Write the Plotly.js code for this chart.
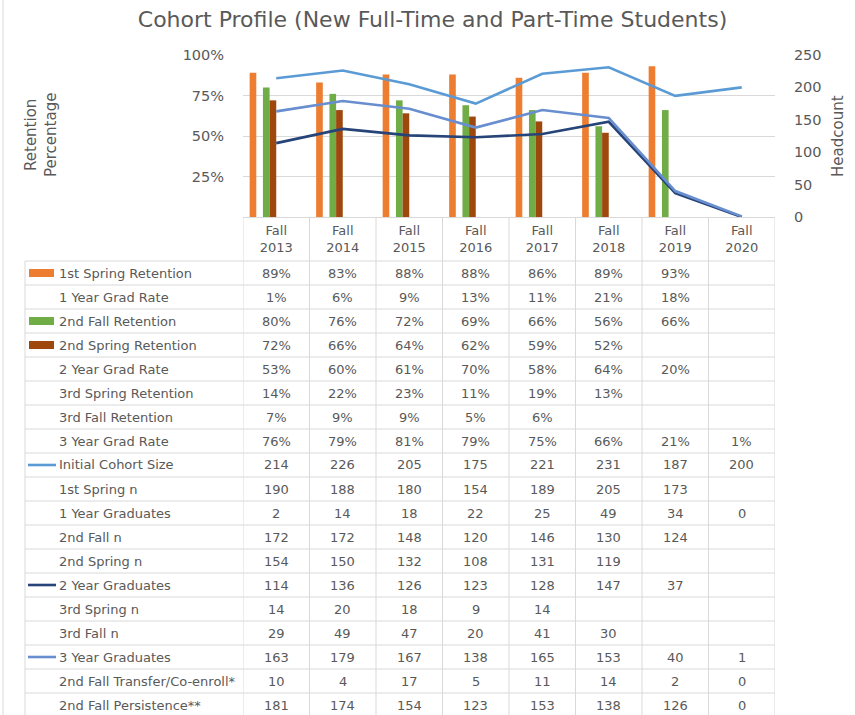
<!DOCTYPE html>
<html><head><meta charset="utf-8">
<script src="https://cdn.plot.ly/plotly-3.0.1.min.js"></script>
<style>html,body{margin:0;padding:0;background:#fff}</style>
</head><body><div id="chart" style="width:855px;height:715px"></div>
<script>
// ---- data ----
const categories = ["Fall 2013","Fall 2014","Fall 2015","Fall 2016","Fall 2017","Fall 2018","Fall 2019","Fall 2020"];
const tickLabels = ["Fall<br>2013","Fall<br>2014","Fall<br>2015","Fall<br>2016","Fall<br>2017","Fall<br>2018","Fall<br>2019","Fall<br>2020"];
const firstSpringRet   = [89, 83, 88, 88, 86, 89, 93, null];
const oneYearGradRate  = [1, 6, 9, 13, 11, 21, 18, null];
const secondFallRet    = [80, 76, 72, 69, 66, 56, 66, null];
const secondSpringRet  = [72, 66, 64, 62, 59, 52, null, null];
const twoYearGradRate  = [53, 60, 61, 70, 58, 64, 20, null];
const thirdSpringRet   = [14, 22, 23, 11, 19, 13, null, null];
const thirdFallRet     = [7, 9, 9, 5, 6, null, null, null];
const threeYearGradRate= [76, 79, 81, 79, 75, 66, 21, 1];
const initialCohort    = [214, 226, 205, 175, 221, 231, 187, 200];
const firstSpringN     = [190, 188, 180, 154, 189, 205, 173, null];
const oneYearGrads     = [2, 14, 18, 22, 25, 49, 34, 0];
const secondFallN      = [172, 172, 148, 120, 146, 130, 124, null];
const secondSpringN    = [154, 150, 132, 108, 131, 119, null, null];
const twoYearGrads     = [114, 136, 126, 123, 128, 147, 37, null];
const thirdSpringN     = [14, 20, 18, 9, 14, null, null, null];
const thirdFallN       = [29, 49, 47, 20, 41, 30, null, null];
const threeYearGrads   = [163, 179, 167, 138, 165, 153, 40, 1];
const transferCoenroll = [10, 4, 17, 5, 11, 14, 2, 0];
const fallPersistence  = [181, 174, 154, 123, 153, 138, 126, 0];
const pctTicks = [25, 50, 75, 100];
const pctTickText = ["25%", "50%", "75%", "100%"];
const countTicks = [0, 50, 100, 150, 200, 250];

// ---- layout geometry ----
const W = 855, H = 715, PL = 243, PR = 775, PT = 55, PB = 217;
const px = x => (x - PL) / (PR - PL);
const py = y => (PB - y) / (PB - PT);
const FONT = 'DejaVu Sans, sans-serif';
const TXT = '#595959', GRID = '#D9D9D9';
const TABLE_TOP = 261, ROW_H = 24, TABLE_LEFT = 25;

const barSeries = [
  {name: '1st Spring Retention', y: firstSpringRet, color: '#ED7D31'},
  {name: '1 Year Grad Rate', y: oneYearGradRate, color: null},
  {name: '2nd Fall Retention', y: secondFallRet, color: '#70AD47'},
  {name: '2nd Spring Retention', y: secondSpringRet, color: '#9E480E'},
  {name: '2 Year Grad Rate', y: twoYearGradRate, color: null},
  {name: '3rd Spring Retention', y: thirdSpringRet, color: null},
  {name: '3rd Fall Retention', y: thirdFallRet, color: null},
  {name: '3 Year Grad Rate', y: threeYearGradRate, color: null}
];
const lineSeries = [
  {name: 'Initial Cohort Size', y: initialCohort, color: '#5B9BD5'},
  {name: '2 Year Graduates', y: twoYearGrads, color: '#264478'},
  {name: '3 Year Graduates', y: threeYearGrads, color: '#698ED0'}
];

const rows = [
  {label: '1st Spring Retention', v: firstSpringRet, pct: true, key: 'bar', color: '#ED7D31'},
  {label: '1 Year Grad Rate', v: oneYearGradRate, pct: true},
  {label: '2nd Fall Retention', v: secondFallRet, pct: true, key: 'bar', color: '#70AD47'},
  {label: '2nd Spring Retention', v: secondSpringRet, pct: true, key: 'bar', color: '#9E480E'},
  {label: '2 Year Grad Rate', v: twoYearGradRate, pct: true},
  {label: '3rd Spring Retention', v: thirdSpringRet, pct: true},
  {label: '3rd Fall Retention', v: thirdFallRet, pct: true},
  {label: '3 Year Grad Rate', v: threeYearGradRate, pct: true},
  {label: 'Initial Cohort Size', v: initialCohort, key: 'line', color: '#5B9BD5'},
  {label: '1st Spring n', v: firstSpringN},
  {label: '1 Year Graduates', v: oneYearGrads},
  {label: '2nd Fall n', v: secondFallN},
  {label: '2nd Spring n', v: secondSpringN},
  {label: '2 Year Graduates', v: twoYearGrads, key: 'line', color: '#264478'},
  {label: '3rd Spring n', v: thirdSpringN},
  {label: '3rd Fall n', v: thirdFallN},
  {label: '3 Year Graduates', v: threeYearGrads, key: 'line', color: '#698ED0'},
  {label: '2nd Fall Transfer/Co-enroll*', v: transferCoenroll},
  {label: '2nd Fall Persistence**', v: fallPersistence}
];

// ---- traces ----
const traces = [];
barSeries.forEach(s => traces.push({
  type: 'bar', name: s.name, x: categories, y: s.y,
  marker: {color: s.color || 'rgba(0,0,0,0)'},
  hoverinfo: s.color ? 'x+y+name' : 'skip', showlegend: false
}));
lineSeries.forEach(s => traces.push({
  type: 'scatter', mode: 'lines', name: s.name, x: categories,
  y: s.y.map(v => v == null ? 0 : v), // Excel plots the blank cell as zero
  yaxis: 'y2', line: {color: s.color, width: 2.6}, showlegend: false
}));

// ---- table: lines, text, legend keys ----
const shapes = [];
const annotations = [];
const nRows = rows.length;
const tableBottom = TABLE_TOP + nRows * ROW_H;
for (let k = 0; k <= nRows; k++) {
  const yy = TABLE_TOP + k * ROW_H;
  shapes.push({type: 'line', xref: 'paper', yref: 'paper', x0: px(TABLE_LEFT), x1: px(PR), y0: py(yy), y1: py(yy), line: {color: GRID, width: 1}});
}
shapes.push({type: 'line', xref: 'paper', yref: 'paper', x0: px(TABLE_LEFT), x1: px(TABLE_LEFT), y0: py(TABLE_TOP), y1: py(tableBottom), line: {color: GRID, width: 1}});
for (let i = 0; i <= categories.length; i++) {
  shapes.push({type: 'line', xref: 'x', yref: 'paper', x0: i - 0.5, x1: i - 0.5, y0: 0, y1: py(tableBottom), line: {color: GRID, width: 1}});
}
// outer chart border on the left
shapes.push({type: 'line', xref: 'paper', yref: 'paper', x0: px(3), x1: px(3), y0: py(0), y1: py(H), line: {color: GRID, width: 1}});

rows.forEach((r, k) => {
  const cy = TABLE_TOP + k * ROW_H + ROW_H / 2;
  annotations.push({xref: 'paper', yref: 'paper', x: px(57), y: py(cy), xanchor: 'left', yanchor: 'middle',
    text: r.label, showarrow: false, font: {family: FONT, size: 13, color: TXT}});
  r.v.forEach((val, j) => {
    if (val == null) return;
    annotations.push({xref: 'x', yref: 'paper', x: categories[j], y: py(cy), xanchor: 'center', yanchor: 'middle',
      text: r.pct ? val + '%' : String(val), showarrow: false, font: {family: FONT, size: 13, color: TXT}});
  });
  if (r.key === 'bar') {
    shapes.push({type: 'rect', xref: 'paper', yref: 'paper', x0: px(29), x1: px(54), y0: py(cy - 4), y1: py(cy + 4),
      fillcolor: r.color, line: {width: 0}});
  } else if (r.key === 'line') {
    shapes.push({type: 'line', xref: 'paper', yref: 'paper', x0: px(28), x1: px(56), y0: py(cy), y1: py(cy),
      line: {color: r.color, width: 2.6}});
  }
});

// axis titles
annotations.push({xref: 'paper', yref: 'paper', x: px(41), y: py(135), xanchor: 'center', yanchor: 'middle',
  text: 'Retention<br>Percentage', textangle: -90, showarrow: false, font: {family: FONT, size: 15, color: TXT}});
annotations.push({xref: 'paper', yref: 'paper', x: px(838), y: py(136), xanchor: 'center', yanchor: 'middle',
  text: 'Headcount', textangle: -90, showarrow: false, font: {family: FONT, size: 15, color: TXT}});

const layout = {
  width: W, height: H,
  margin: {l: PL, r: W - PR, t: PT, b: H - PB, pad: 0},
  paper_bgcolor: '#fff', plot_bgcolor: '#fff',
  font: {family: FONT, color: TXT},
  title: {text: 'Cohort Profile (New Full-Time and Part-Time Students)', x: 432.5 / W, xref: 'container',
    y: 1 - 19 / H, yref: 'container', xanchor: 'center', yanchor: 'middle',
    font: {family: FONT, size: 22, color: TXT}},
  barmode: 'group', bargap: 0.2, bargroupgap: 0,
  showlegend: false,
  xaxis: {type: 'category', range: [-0.5, 7.5], tickmode: 'array', tickvals: categories, ticktext: tickLabels,
    showline: true, linecolor: GRID, linewidth: 1, showgrid: false, zeroline: false,
    ticks: 'outside', ticklen: 1, tickcolor: 'rgba(0,0,0,0)', tickfont: {family: FONT, size: 13, color: TXT}, fixedrange: true},
  yaxis: {range: [0, 100], tickmode: 'array', tickvals: pctTicks, ticktext: pctTickText, showgrid: true, gridcolor: GRID,
    zeroline: false, showline: false, ticks: 'outside', ticklen: 15, tickcolor: 'rgba(0,0,0,0)',
    tickfont: {family: FONT, size: 14.5, color: TXT}, fixedrange: true},
  yaxis2: {range: [0, 250], overlaying: 'y', side: 'right', tickmode: 'array', tickvals: countTicks, showgrid: false,
    zeroline: false, showline: false, ticks: 'outside', ticklen: 15, tickcolor: 'rgba(0,0,0,0)',
    tickfont: {family: FONT, size: 14.5, color: TXT}, fixedrange: true},
  shapes: shapes, annotations: annotations
};
Plotly.newPlot('chart', traces, layout, {displayModeBar: false, staticPlot: true});
</script></body></html>
